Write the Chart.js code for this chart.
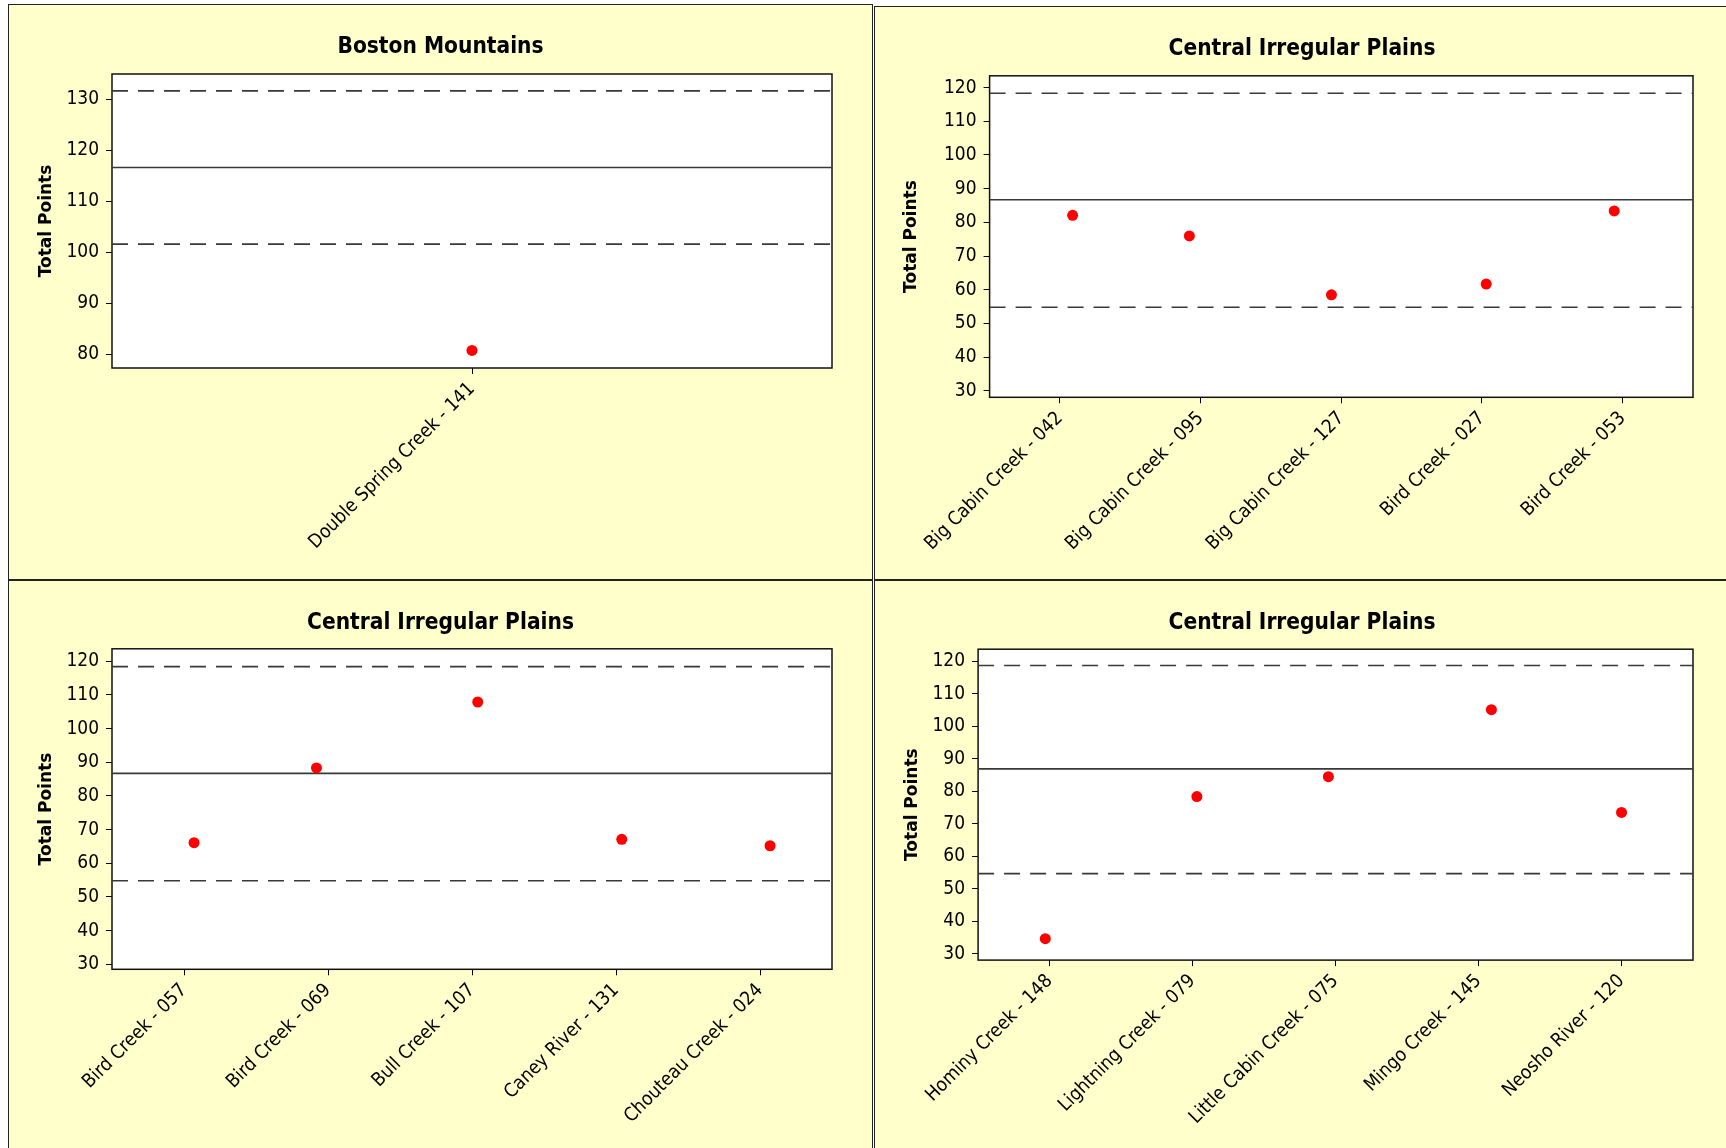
<!DOCTYPE html>
<html>
<head>
    <title>Total Points by Site</title>
    <script src="https://cdn.jsdelivr.net/npm/chart.js"></script>
    <style>
        body { margin: 0; background: #fff; width: 1726px; height: 1148px; overflow: hidden; position: relative; }
        .panel { position: absolute; box-sizing: border-box; border: 1px solid #222; background: #ffffcc; overflow: hidden; }
        .panel canvas { display: block; }
    </style>
</head>
<body>
    <div class="panel" style="left:8px; top:4px; width:865px; height:576px;"><canvas id="c1" width="863" height="574"></canvas></div>
    <div class="panel" style="left:874px; top:6px; width:856px; height:574px;"><canvas id="c2" width="854" height="572"></canvas></div>
    <div class="panel" style="left:8px; top:580px; width:865px; height:580px;"><canvas id="c3" width="863" height="567"></canvas></div>
    <div class="panel" style="left:874px; top:580px; width:856px; height:580px;"><canvas id="c4" width="854" height="567"></canvas></div>

    <script>
        // Boston Mountains
        const sites1 = ['Double Spring Creek - 141'];
        const xPos1 = [0.0];
        const points1 = [80.8];
        const limits1 = [131.6, 116.6, 101.6];   // upper, center, lower
        const yTicks1 = [80, 90, 100, 110, 120, 130];

        // Central Irregular Plains (top right)
        const sites2 = ['Big Cabin Creek - 042', 'Big Cabin Creek - 095', 'Big Cabin Creek - 127', 'Bird Creek - 027', 'Bird Creek - 053'];
        const xPos2 = [0.09, 0.92, 1.93, 3.03, 3.94];
        const points2 = [82.1, 76.0, 58.5, 61.7, 83.4];
        const limits2 = [118.3, 86.7, 54.8];
        const yTicks2 = [30, 40, 50, 60, 70, 80, 90, 100, 110, 120];

        // Central Irregular Plains (bottom left)
        const sites3 = ['Bird Creek - 057', 'Bird Creek - 069', 'Bull Creek - 107', 'Caney River - 131', 'Chouteau Creek - 024'];
        const xPos3 = [0.07, 0.92, 2.04, 3.04, 4.07];
        const points3 = [66.1, 88.3, 107.9, 67.1, 65.2];
        const limits3 = [118.4, 86.7, 54.8];
        const yTicks3 = [30, 40, 50, 60, 70, 80, 90, 100, 110, 120];

        // Central Irregular Plains (bottom right)
        const sites4 = ['Hominy Creek - 148', 'Lightning Creek - 079', 'Little Cabin Creek - 075', 'Mingo Creek - 145', 'Neosho River - 120'];
        const xPos4 = [-0.03, 1.03, 1.95, 3.09, 4.0];
        const points4 = [34.7, 78.4, 84.5, 105.1, 73.5];
        const limits4 = [118.7, 86.9, 54.7];
        const yTicks4 = [30, 40, 50, 60, 70, 80, 90, 100, 110, 120];

        const TICK_FONT = { family: '"DejaVu Sans Condensed", "DejaVu Sans", sans-serif', size: 19 };

        // white plot area with a black frame
        const framePlugin = {
            id: 'frame',
            beforeDatasetsDraw(chart) {
                const a = chart.chartArea;
                const ctx = chart.ctx;
                ctx.save();
                ctx.fillStyle = '#ffffff';
                ctx.fillRect(a.left, a.top, a.right - a.left, a.bottom - a.top);
                ctx.strokeStyle = '#111';
                ctx.lineWidth = 1.5;
                ctx.strokeRect(a.left, a.top, a.right - a.left, a.bottom - a.top);
                ctx.restore();
            }
        };

        function refLine(n, y, dash) {
            return {
                data: [{ x: -0.5, y: y }, { x: n - 0.5, y: y }],
                showLine: true,
                borderColor: '#383838',
                borderWidth: 1.6,
                borderDash: dash,
                pointRadius: 0
            };
        }

        function makePanel(id, title, sites, xPos, points, limits, yTicks, yMin, yMax, lay) {
            const n = sites.length;
            new Chart(document.getElementById(id), {
                type: 'scatter',
                data: {
                    datasets: [
                        {
                            data: xPos.map((x, i) => ({ x: x, y: points[i] })),
                            backgroundColor: '#ff0000',
                            borderWidth: 0,
                            pointRadius: 5.5
                        },
                        refLine(n, limits[0], [16, 10]),
                        refLine(n, limits[1], []),
                        refLine(n, limits[2], [16, 10])
                    ]
                },
                options: {
                    responsive: false,
                    animation: false,
                    layout: { padding: { left: lay.pad, right: lay.pad, top: 0, bottom: 0 } },
                    plugins: {
                        legend: { display: false },
                        tooltip: { enabled: false },
                        title: {
                            display: true,
                            text: title,
                            color: '#000',
                            font: { family: '"DejaVu Sans Condensed", "DejaVu Sans", sans-serif', weight: 'bold', size: 22.5, lineHeight: 1.2 },
                            padding: { top: lay.titleTop, bottom: lay.titleBottom }
                        }
                    },
                    scales: {
                        x: {
                            type: 'linear',
                            min: -0.5,
                            max: n - 0.5,
                            afterBuildTicks: s => { s.ticks = sites.map((_, i) => ({ value: i })); },
                            afterFit: s => { s.height = lay.xHeight; },
                            grid: { drawOnChartArea: false, drawTicks: true, tickLength: 6, color: '#000' },
                            border: { display: false },
                            ticks: {
                                callback: v => sites[Math.round(v)],
                                autoSkip: false,
                                minRotation: 45,
                                maxRotation: 45,
                                padding: 4,
                                color: '#000',
                                font: TICK_FONT
                            }
                        },
                        y: {
                            min: yMin,
                            max: yMax,
                            afterBuildTicks: s => { s.ticks = yTicks.map(v => ({ value: v })); },
                            afterFit: s => { s.width = lay.yWidth; },
                            grid: { drawOnChartArea: false, drawTicks: true, tickLength: 6, color: '#000' },
                            border: { display: false },
                            ticks: { padding: 7, color: '#000', font: TICK_FONT },
                            title: {
                                display: true,
                                text: 'Total Points',
                                color: '#000',
                                font: { family: '"DejaVu Sans", sans-serif', weight: 'bold', size: 17 },
                                padding: { top: lay.yTitle, bottom: 0 }
                            }
                        }
                    }
                },
                plugins: [framePlugin]
            });
        }

        makePanel('c1', 'Boston Mountains', sites1, xPos1, points1, limits1, yTicks1, 77.35, 134.9,
            { pad: 40, yWidth: 63, xHeight: 211, titleTop: 28.4, titleBottom: 13.6, yTitle: -12.2 });
        makePanel('c2', 'Central Irregular Plains', sites2, xPos2, points2, limits2, yTicks2, 28.1, 123.5,
            { pad: 36, yWidth: 78.6, xHeight: 181.7, titleTop: 28.7, titleBottom: 13.1, yTitle: -9.8 });
        makePanel('c3', 'Central Irregular Plains', sites3, xPos3, points3, limits3, yTicks3, 28.5, 123.7,
            { pad: 40, yWidth: 63, xHeight: 178.7, titleTop: 28.3, titleBottom: 12.5, yTitle: -12.2 });
        makePanel('c4', 'Central Irregular Plains', sites4, xPos4, points4, limits4, yTicks4, 28.1, 123.7,
            { pad: 36, yWidth: 67.1, xHeight: 187.9, titleTop: 28.3, titleBottom: 12.9, yTitle: -8.7 });
    </script>
</body>
</html>
